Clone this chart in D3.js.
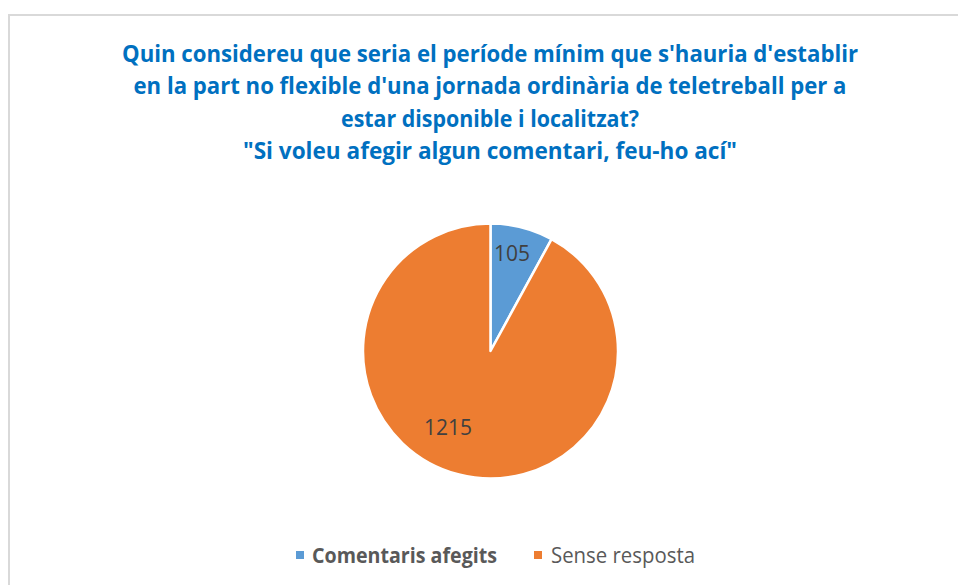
<!DOCTYPE html>
<html>
<head>
<meta charset="utf-8">
<script src="https://cdn.jsdelivr.net/npm/d3@7"></script>
<style>
  html, body { margin: 0; padding: 0; background: #fff; }
  svg { display: block; }
</style>
</head>
<body>
<svg id="chart" width="958" height="585"></svg>
<script>
// chart data
const categories = ["Comentaris afegits", "Sense resposta"];
const values = [105, 1215];
const colors = ["#5B9BD5", "#ED7D31"];
const titleLines = [
  "Quin considereu que seria el període mínim que s'hauria d'establir",
  "en la part no flexible d'una jornada ordinària de teletreball per a",
  "estar disponible i localitzat?",
  "\"Si voleu afegir algun comentari, feu-ho ací\""
];
// widths of the title lines as measured on the reference (px)
const titleWidths = [736, 713, 298, 494];

const width = 958, height = 585;
const font = "'Open Sans', 'Liberation Sans', sans-serif";
const svg = d3.select("#chart");

// chart area border (only top and left edges are visible)
svg.append("path")
  .attr("d", `M9,${height} V15 H${width}`)
  .attr("fill", "none")
  .attr("stroke", "#d9d9d9")
  .attr("stroke-width", 2);

// title
titleLines.forEach((line, i) => {
  svg.append("text")
    .attr("x", 490)
    .attr("y", 62 + i * 32.3)
    .attr("text-anchor", "middle")
    .attr("font-family", font)
    .attr("font-size", 24)
    .attr("font-weight", "bold")
    .attr("fill", "#0070C0")
    .attr("textLength", titleWidths[i])
    .attr("lengthAdjust", "spacingAndGlyphs")
    .text(line);
});

// pie
const cx = 490.5, cy = 351, radius = 127.5;
const pie = d3.pie().sort(null).value(d => d)(values);
const arc = d3.arc().innerRadius(0).outerRadius(radius);

const pieG = svg.append("g").attr("transform", `translate(${cx},${cy})`);

pieG.selectAll("path")
  .data(pie)
  .join("path")
  .attr("d", arc)
  .attr("fill", (d, i) => colors[i])
  .attr("stroke", "#fff")
  .attr("stroke-width", 2.5)
  .attr("stroke-linejoin", "round");

// data labels (excel "best fit" spots, relative to the centre)
const labelPos = [[21.5, -90], [-42.5, 84]];
pieG.selectAll("text.lbl")
  .data(pie)
  .join("text")
  .attr("class", "lbl")
  .attr("x", (d, i) => labelPos[i][0])
  .attr("y", (d, i) => labelPos[i][1])
  .attr("text-anchor", "middle")
  .attr("font-family", font)
  .attr("font-size", 21)
  .attr("fill", "#404040")
  .text(d => d.data);

// legend
const legendItems = [
  { x: 296, tx: 312, tw: 185, bold: true },
  { x: 534, tx: 551, tw: 144, bold: false }
];
categories.forEach((c, i) => {
  const it = legendItems[i];
  svg.append("rect")
    .attr("x", it.x).attr("y", 551)
    .attr("width", 8).attr("height", 8)
    .attr("fill", colors[i]);
  svg.append("text")
    .attr("x", it.tx).attr("y", 563)
    .attr("font-family", font)
    .attr("font-size", 21)
    .attr("font-weight", it.bold ? "bold" : "normal")
    .attr("fill", "#595959")
    .attr("textLength", it.tw)
    .attr("lengthAdjust", "spacingAndGlyphs")
    .text(c);
});
</script>
</body>
</html>
